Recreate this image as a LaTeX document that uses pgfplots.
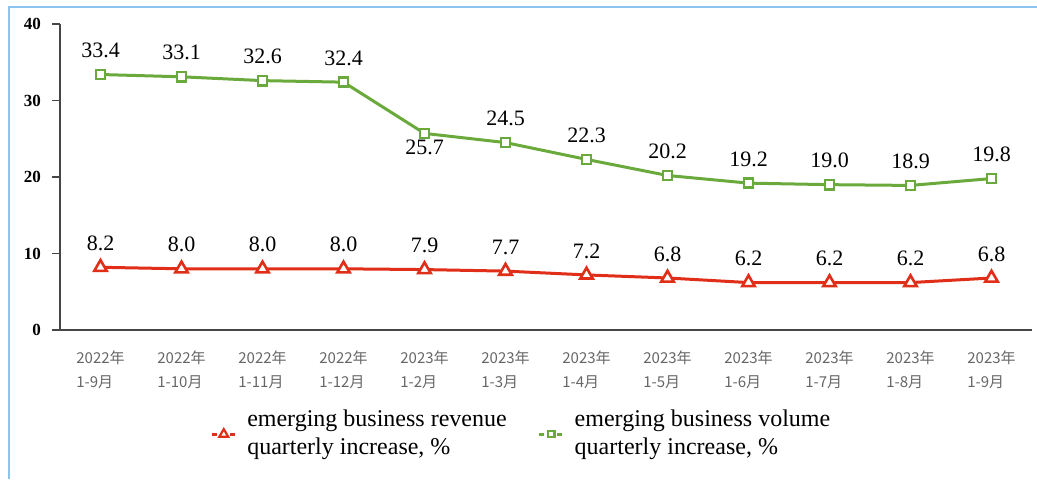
\documentclass[border=0pt]{standalone}
\usepackage{pgfplots}
\usepackage{pgfplotstable}
\usepackage{fontspec}
\pgfplotsset{compat=1.18}
\setmainfont{Liberation Serif}
\newfontfamily\cjk{Noto Sans CJK SC}

\definecolor{revred}{RGB}{224,46,24}
\definecolor{volgreen}{RGB}{106,170,60}
\definecolor{framblue}{RGB}{140,195,240}
\definecolor{axgray}{RGB}{70,70,70}

\pgfplotstableread{
x  y    dy
0  8.2  12
1  8.0  12
2  8.0  12
3  8.0  12
4  7.9  12
5  7.7  12
6  7.2  12
7  6.8  12
8  6.2  12
9  6.2  12
10 6.2  12
11 6.8  12
}\revenue

\pgfplotstableread{
x  y    dy
0  33.4 12
1  33.1 12
2  32.6 12
3  32.4 12
4  25.7 -7
5  24.5 12
6  22.3 12
7  20.2 12
8  19.2 12
9  19.0 12
10 18.9 12
11 19.8 12
}\volume

\begin{document}
\begin{tikzpicture}
\path[use as bounding box] (0pt,0pt) rectangle (518.5pt,239.5pt);
\draw[framblue, line width=1.2pt] (4.5pt,0pt) -- (4.5pt,236pt) -- (518.5pt,236pt);
\begin{axis}[
    at={(30pt,74.5pt)}, anchor=south west,
    scale only axis, width=486pt, height=153pt,
    xmin=-0.5, xmax=11.5, ymin=0, ymax=40,
    axis lines=left,
    axis line style={-, axgray, line width=1.2pt},
    /pgf/number format/assume math mode=true,
    ytick={0,10,20,30,40},
    yticklabel style={font=\fontsize{8.5}{10}\selectfont\bfseries, xshift=-2pt},
    xtick={0,...,11},
    xticklabels={{2022年\\1-9月},{2022年\\1-10月},{2022年\\1-11月},{2022年\\1-12月},
        {2023年\\1-2月},{2023年\\1-3月},{2023年\\1-4月},{2023年\\1-5月},
        {2023年\\1-6月},{2023年\\1-7月},{2023年\\1-8月},{2023年\\1-9月}},
    xticklabel style={font=\cjk\fontsize{7.5}{12}\selectfont, text=black!60, align=left, yshift=-3pt},
    extra x ticks={-0.5,0.5,...,11.5},
    extra x tick labels={},
    extra x tick style={major tick length=4pt, tick style={axgray, line width=0.6pt}},
    major x tick style={draw=none},
    xtick align=outside, ytick align=outside,
    major tick length=4pt,
    tick style={axgray, line width=0.6pt},
    clip=false,
    legend columns=2,
    legend style={draw=none, fill=none, at={(0.148,-0.235)}, anchor=north west,
        font=\fontsize{12}{14}\selectfont, cells={align=left, anchor=west},
        /tikz/every odd column/.append style={column sep=3pt},
        /tikz/every even column/.append style={column sep=13.5pt}},
    legend image code/.code={
        \draw[#1, line width=1.5pt, dash pattern=on 2.5pt off 6.5pt] (0pt,0pt) -- (12pt,0pt);
        \draw[#1, mark repeat=1, mark options={fill=white, line width=1.1pt, scale=0.7}] plot coordinates {(6pt,0pt)};},
]
\addplot[revred, line width=1.5pt, mark=triangle*, mark size=3.6pt,
    mark options={fill=white, line width=1.3pt},
    nodes near coords, point meta=explicit,
    visualization depends on={\thisrow{dy} \as \dy},
    nodes near coords style={font=\fontsize{11}{13}\selectfont, text=black, anchor=center, yshift=\dy pt, /pgf/number format/fixed, /pgf/number format/fixed zerofill, /pgf/number format/precision=1, /pgf/number format/assume math mode=true}]
    table[x=x, y=y, meta=y] {\revenue};
\addlegendentry{emerging business revenue\\quarterly increase, \%}
\addplot[volgreen, line width=1.5pt, mark=square*, mark size=2.3pt,
    mark options={fill=white, line width=1.3pt},
    nodes near coords, point meta=explicit,
    visualization depends on={\thisrow{dy} \as \dy},
    nodes near coords style={font=\fontsize{11}{13}\selectfont, text=black, anchor=center, yshift=\dy pt, /pgf/number format/fixed, /pgf/number format/fixed zerofill, /pgf/number format/precision=1, /pgf/number format/assume math mode=true}]
    table[x=x, y=y, meta=y] {\volume};
\addlegendentry{emerging business volume\\quarterly increase, \%}
\end{axis}
\end{tikzpicture}
\end{document}
